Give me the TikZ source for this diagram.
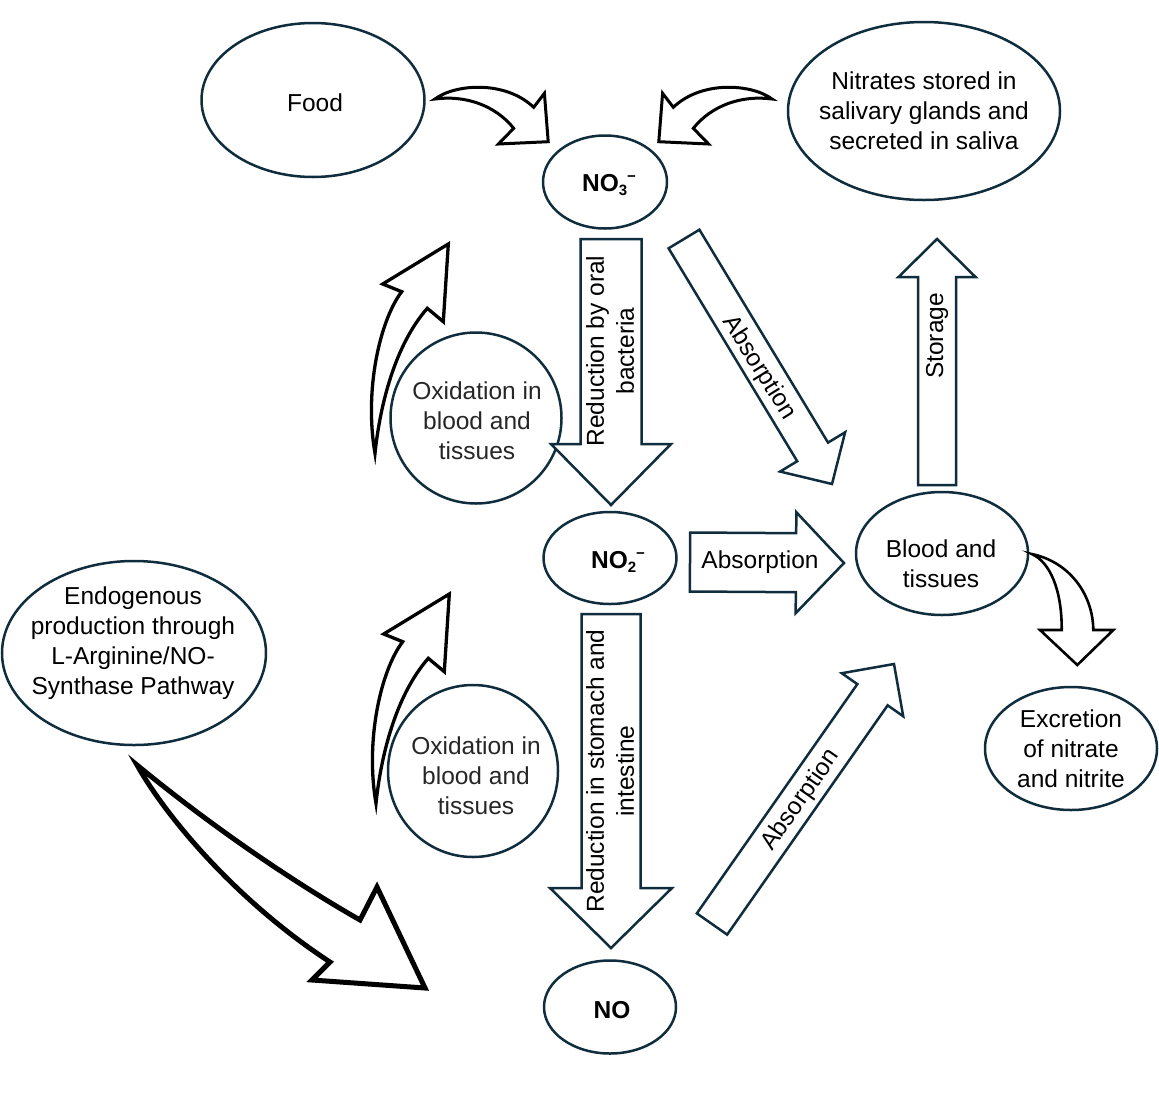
\documentclass[tikz,border=0pt]{standalone}
\usepackage{fontspec}
\setmainfont{Liberation Sans}
\usetikzlibrary{calc,shapes.geometric}
\definecolor{navy}{HTML}{0F2D3C}
\definecolor{oxtext}{HTML}{262626}
\tikzset{
  ell/.style={draw=navy, line width=2.5pt, ellipse, inner sep=0pt},
  lbl/.style={align=center, inner sep=0pt, font=\fontsize{24.5}{30}\selectfont},
  chem/.style={lbl, font=\fontsize{24.5}{30}\selectfont\bfseries},
  blk/.style={draw=navy, line width=2.5pt, fill=white, line join=miter},
  crv/.style={draw=black, line width=3pt, fill=white, line join=miter},
}
\newcommand\blockarrow[5]{%
  \coordinate (#1h) at ($(#2)!#5!(#1)$);
  \draw[blk] ($(#1)!#3!90:(#2)$) -- ($(#1h)!#3!-90:(#1)$) -- ($(#1h)!#4!-90:(#1)$)
    -- (#2) -- ($(#1h)!#4!90:(#1)$) -- ($(#1h)!#3!90:(#1)$) -- ($(#1)!#3!-90:(#2)$) -- cycle;
}
\newcommand\chemNO[1]{NO\raisebox{-0.32ex}{\fontsize{15}{15}\selectfont #1}\raisebox{0.75ex}{\fontsize{15}{15}\selectfont −}}
\begin{document}
\begin{tikzpicture}[x=1pt,y=-1pt]
\useasboundingbox (0,0) rectangle (1159,1098);

% ---- ellipses ----
\node[ell, minimum width=223pt, minimum height=154pt] (food) at (313,100) {};
\node[ell, minimum width=124pt, minimum height=93pt] (no3) at (605,182) {};
\node[ell, minimum width=272pt, minimum height=178pt] (saliva) at (924,111) {};
\node[ell, minimum width=171pt, minimum height=171pt] (ox1) at (476,418) {};
\node[ell, minimum width=133pt, minimum height=92pt] (no2) at (610,558) {};
\node[ell, minimum width=172pt, minimum height=123pt] (blood) at (942,553.5) {};
\node[ell, minimum width=264pt, minimum height=184pt] (endo) at (134,653) {};
\node[ell, minimum width=170pt, minimum height=172pt] (ox2) at (473,771) {};
\node[ell, minimum width=132pt, minimum height=93pt] (no) at (610,1007) {};
\node[ell, minimum width=172pt, minimum height=123pt] (excr) at (1071,748.5) {};

% ---- texts ----
\node[lbl] (food-t) at (315,103) {Food};
\node[chem] (no3-t) at (609,185) {\chemNO{3}};
\node[lbl] (saliva-t) at (924,111) {Nitrates stored in\\salivary glands and\\secreted in saliva};
\node[lbl, text=oxtext] (ox1-t) at (477,421) {Oxidation in\\blood and\\tissues};
\node[chem] (no2-t) at (618,562) {\chemNO{2}};
\node[lbl] (blood-t) at (941,564) {Blood and\\tissues};
\node[lbl] (endo-t) at (133,643) {Endogenous\\production through\\L-Arginine/NO-\\Synthase Pathway};
\node[lbl, text=oxtext] (ox2-t) at (476,776) {Oxidation in\\blood and\\tissues};
\node[chem] (no-t) at (612,1010) {NO};
\node[lbl] (excr-t) at (1071,749) {Excretion\\of nitrate\\and nitrite};

% ---- block arrow end points ----
\coordinate (r1) at (611,239);   \coordinate (r1e) at (611,505);
\coordinate (a1) at (684,239);   \coordinate (a1e) at (832,484);
\coordinate (a2) at (690,562);   \coordinate (a2e) at (844,563);
\coordinate (st) at (937,485);   \coordinate (ste) at (937,239);
\coordinate (r2) at (611,614);   \coordinate (r2e) at (611,948);
\coordinate (a3) at (712,924);   \coordinate (a3e) at (894,664);

\blockarrow{r1}{r1e}{30.5pt}{60pt}{61pt}
\blockarrow{a1}{a1e}{18pt}{38pt}{37.5pt}
\blockarrow{a2}{a2e}{29.5pt}{50.5pt}{48pt}
\blockarrow{st}{ste}{19pt}{38.5pt}{38pt}
\blockarrow{r2}{r2e}{29.5pt}{61pt}{60pt}
\blockarrow{a3}{a3e}{18.5pt}{37.5pt}{37.5pt}

\node[lbl, rotate=90] (r1-t) at (610,351) {Reduction by oral\\bacteria};
\node[lbl, rotate=-58] (a1-t) at (759,368) {Absorption};
\node[lbl] (a2-t) at (760,562) {Absorption};
\node[lbl, rotate=90] (st-t) at (937,336) {Storage};
\node[lbl, rotate=90] (r2-t) at (610,771) {Reduction in stomach and\\intestine};
\node[lbl, rotate=55] (a3-t) at (801,800) {Absorption};

% ---- curved arrows ----
% Food -> NO3
\draw[crv] (435,99) .. controls (455,84) and (505,80) .. (533.7,107.3)
  -- (544.4,93.3) -- (548.2,141.7) -- (498.4,144) -- (513.7,128.3)
  .. controls (495,105) and (465,95) .. cycle;
% saliva -> NO3 (mirror)
\begin{scope}[shift={(1207,0)}, xscale=-1]
\draw[crv] (435,99) .. controls (455,84) and (505,80) .. (533.7,107.3)
  -- (544.4,93.3) -- (548.2,141.7) -- (498.4,144) -- (513.7,128.3)
  .. controls (495,105) and (465,95) .. cycle;
\end{scope}
% oxidation arrows
\draw[crv, line width=3.3pt] (375,453.3) .. controls (380,405) and (395,345) .. (427.3,308.3)
  -- (443.3,321.7) -- (448.3,244) -- (382.7,284) -- (401.7,291.7)
  .. controls (380,320) and (364,390) .. cycle;
\begin{scope}[shift={(1,350)}]
\draw[crv, line width=3.3pt] (375,453.3) .. controls (380,405) and (395,345) .. (427.3,308.3)
  -- (443.3,321.7) -- (448.3,244) -- (382.7,284) -- (401.7,291.7)
  .. controls (380,320) and (364,390) .. cycle;
\end{scope}
% endogenous -> NO
\draw[crv, line width=5pt] (137,765) .. controls (210,825) and (290,880) .. (360,920)
  -- (377,887) -- (425,988) -- (312,980) -- (330,962)
  .. controls (235,900) and (165,815) .. cycle;
% blood -> excretion
\draw[crv, line width=2.6pt] (1031.7,554) .. controls (1070,562) and (1093,595) .. (1093.3,630)
  -- (1113.3,630) -- (1077.3,665) -- (1040,630) -- (1061.7,630)
  .. controls (1062,590) and (1050,562) .. cycle;
\end{tikzpicture}
\end{document}
